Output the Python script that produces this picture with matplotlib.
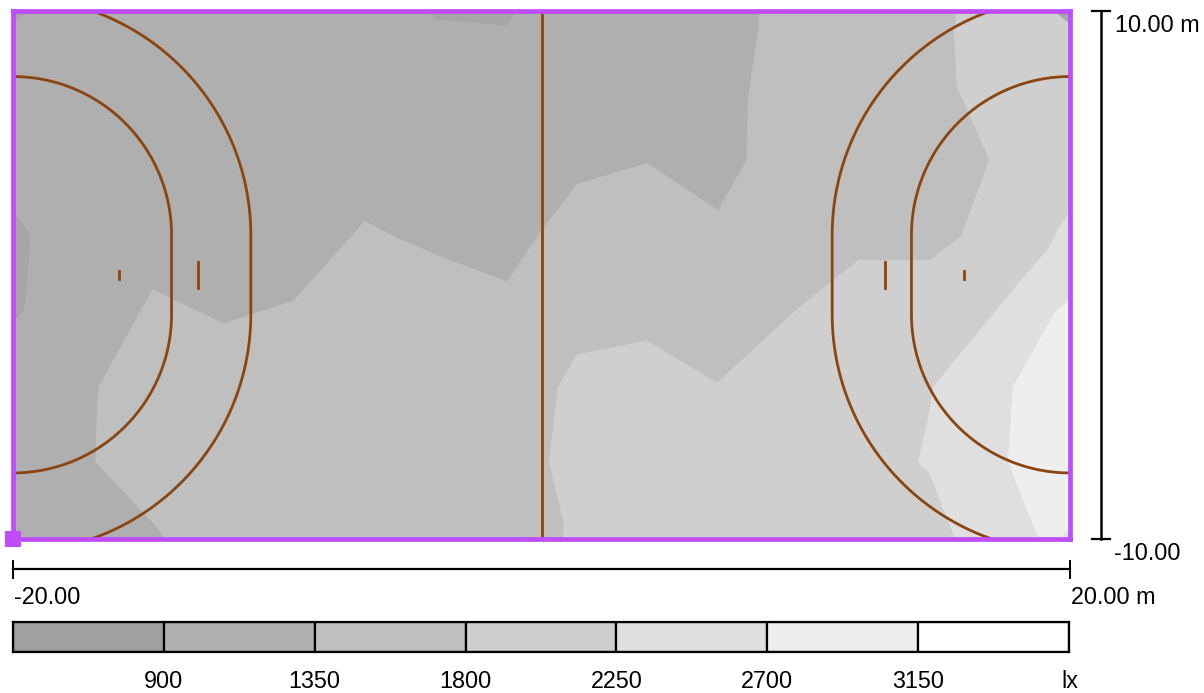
import numpy as np
import matplotlib
matplotlib.use('Agg')
import matplotlib.pyplot as plt

plt.rcParams['font.family'] = ['Liberation Sans', 'DejaVu Sans']

# Isolux boundaries, in metres on the court
x_1350 = [20, 20, -14.26, -14.57, -16.88, -16.84, -16.76, -14.72, -12.03, -9.38, -6.69, -5.37, -3.74, -1.31,
          -0.06, 1.34, 3.99, 6.68, 7.77, 7.81, 7.96, 8.23, 8.23]
y_1350 = [10, -10, -10, -9.54, -7.08, -5.48, -4.23, -0.55, -1.84, -0.97, 2.03, 1.35, 0.66, -0.25,
          1.61, 3.43, 4.23, 2.45, 4.35, 6.66, 7.69, 9.43, 10]

x_1800 = [20, 20, 0.81, 0.84, 0.28, 0.62, 1.34, 3.99, 6.64, 9.78, 11.98, 14.70, 15.88, 16.94, 15.72, 15.61, 15.69]
y_1800 = [10, -10, -10, -9.39, -7.08, -4.23, -3.02, -2.49, -4.08, -1.20, 0.55, 0.55, 1.46, 4.35, 7.12, 9.20, 10]

x_2250 = [20, 19.55, 19.17, 18.49, 14.82, 14.67, 14.25, 14.67, 15.65, 20]
y_2250 = [2.37, 1.73, 0.97, 0.21, -4.23, -5.22, -7.12, -7.49, -10, -10]

x_2700 = [20, 19.44, 17.84, 17.65, 18.49, 18.83, 19.63, 20]
y_2700 = [-0.93, -1.39, -4.23, -7.08, -9.20, -10, -10, -9.58]

# Small darker patches
x_left = [-20, -19.34, -19.53, -19.64, -20]
y_left = [2.49, 1.46, -1.04, -1.42, -1.76]
x_top = [-4.34, -4.0, -1.31, -0.93]
y_top = [10, 9.66, 9.43, 10]
x_corner_tl = [-20, -19.4, -20]
y_corner_tl = [10, 10, 9.5]
x_corner_tr = [19.4, 20, 20]
y_corner_tr = [10, 10, 9.5]

# Legend
legend_edges = [450, 900, 1350, 1800, 2250, 2700, 3150, 3600]
legend_ticks = [900, 1350, 1800, 2250, 2700, 3150]
legend_colors = ['#a0a0a0', '#afafaf', '#bfbfbf', '#cfcfcf', '#dfdfdf', '#eeeeee', '#ffffff']

BROWN = '#8a4510'
PURPLE = '#c04cff'
W, H = 1204, 693

fig = plt.figure(figsize=(W / 100, H / 100), dpi=100)

# Court
ax = fig.add_axes([13 / W, 1 - 539 / H, (1070 - 13) / W, (539 - 10.5) / H])
ax.set_xlim(-20, 20)
ax.set_ylim(-10, 10)
ax.set_facecolor('#afafaf')
ax.set_xticks([])
ax.set_yticks([])

ax.fill(x_1350, y_1350, color='#bfbfbf', lw=0)
ax.fill(x_1800, y_1800, color='#cfcfcf', lw=0)
ax.fill(x_2250, y_2250, color='#dfdfdf', lw=0)
ax.fill(x_2700, y_2700, color='#eeeeee', lw=0)
ax.fill(x_left, y_left, color='#a6a6a6', lw=0)
ax.fill(x_top, y_top, color='#a6a6a6', lw=0)
ax.fill(x_corner_tl, y_corner_tl, color='#a6a6a6', lw=0)
ax.fill(x_corner_tr, y_corner_tr, color='#a6a6a6', lw=0)

# Court markings
ax.plot([0, 0], [-10, 10], color=BROWN, lw=2.0)
t = np.linspace(0, np.pi / 2, 60)
for side, goal in [(1, -20), (-1, 20)]:
    for r in [6, 9]:
        xa = goal + side * r * np.cos(t)
        ya = 1.5 + r * np.sin(t)
        xs = np.concatenate([xa[::-1], xa])
        ys = np.concatenate([ya[::-1], -ya])
        ax.plot(xs, ys, color=BROWN, lw=2.0)
    ax.plot([goal + side * 7, goal + side * 7], [-0.5, 0.5], color=BROWN, lw=2.0)
    ax.plot([goal + side * 4, goal + side * 4], [-0.15, 0.15], color=BROWN, lw=2.0)

for s in ax.spines.values():
    s.set_color(PURPLE)
    s.set_linewidth(3.4)
ax.plot([-20], [-10], marker='s', ms=11.5, color=PURPLE, mew=0, clip_on=False, zorder=5)

# Legend bar
leg = fig.add_axes([13 / W, 1 - 652 / H, (1069 - 13) / W, 30 / H])
leg.bar(legend_edges[:-1], [1] * 7, width=np.diff(legend_edges), align='edge',
        color=legend_colors, edgecolor='black', linewidth=1.6)
leg.set_xlim(legend_edges[0], legend_edges[-1])
leg.set_ylim(0, 1)
leg.set_yticks([])
leg.set_xticks(legend_ticks)
leg.set_xticklabels(legend_ticks, fontsize=16.8)
leg.tick_params(axis='x', length=0, pad=13)
for s in leg.spines.values():
    s.set_linewidth(1.6)

# Scale bars and their labels, in picture pixels
page = fig.add_axes([0, 0, 1, 1])
page.set_xlim(0, W)
page.set_ylim(H, 0)
page.axis('off')
page.patch.set_alpha(0)
page.plot([1101, 1101], [11, 539], color='black', lw=1.8)
page.plot([1092, 1110], [11, 11], color='black', lw=1.6)
page.plot([1092, 1110], [539, 539], color='black', lw=1.6)
page.plot([13, 1070], [569, 569], color='black', lw=1.6)
page.plot([13, 13], [561, 578], color='black', lw=1.4)
page.plot([1070, 1070], [561, 578], color='black', lw=1.4)
page.text(1115, 26, '10.00 m', fontsize=16.8, va='center')
page.text(1114, 554, '-10.00', fontsize=16.8, va='center')
page.text(14, 597, '-20.00', fontsize=16.8, va='center')
page.text(1071, 597, '20.00 m', fontsize=16.8, va='center')
page.text(1070, 681, 'lx', fontsize=16.8, va='center', ha='center')

plt.savefig('out.png', dpi=100)
